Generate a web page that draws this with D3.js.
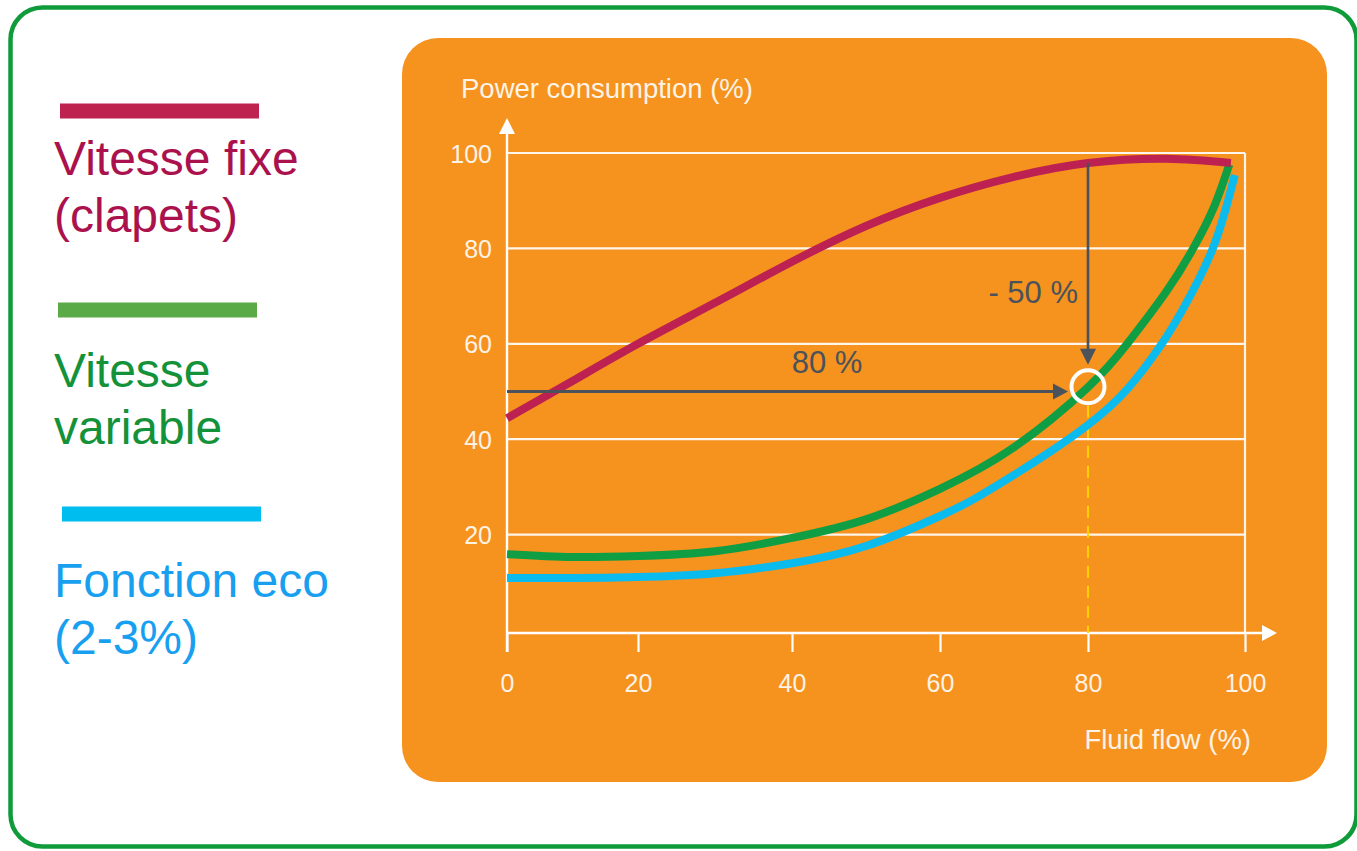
<!DOCTYPE html>
<html>
<head>
<meta charset="utf-8">
<script src="https://cdn.jsdelivr.net/npm/d3@7"></script>
<style>
	body { margin: 0; background: #fff; }
	svg { display: block; }
	text { font-family: "Liberation Sans", Arial, Helvetica, sans-serif; }
</style>
</head>
<body>
<svg id="chart" width="1357" height="851"></svg>
<script>
// data: [fluid flow %, power consumption %]
var xTicks = [0, 20, 40, 60, 80, 100];
var yTicks = [20, 40, 60, 80, 100];

var fixedSpeed = [[0, 44.4], [10, 52.2], [20, 60], [30, 68.6], [40, 77.2], [50, 84.7],
	[60, 90.6], [70, 95], [80, 97.9], [90, 98.8], [98.2, 97.9]];
var variableSpeed = [[0, 15.9], [10, 15.3], [20, 15.5], [30, 16.5], [40, 19.3], [50, 23.2],
	[60, 29.6], [70, 38.3], [80, 50.9], [85, 60], [90, 71], [93.4, 80], [96, 88.5], [98, 97.6]];
var ecoMode = [[0, 10.9], [10, 10.9], [20, 11.1], [30, 11.9], [40, 14], [50, 17.6],
	[60, 23.9], [65, 27.8], [70, 32.5], [75, 37.5], [80, 43], [85, 50.5], [89.4, 60],
	[92, 67], [95.9, 80], [98.7, 95.4]];

var seriesNames = ['fixe', 'variable', 'eco'];
var legendLabels = [['Vitesse fixe', '(clapets)'], ['Vitesse', 'variable'], ['Fonction eco', '(2-3%)']];

// operating point annotation
var opFlow = 80, opPower = 50, opCircle = 51, opFixed = 97.9;
var flowLabel = '80 %', savingLabel = '- 50 %';

var curveColors = ['#bc2152', '#109e45', '#0cbbee'];
var legendBarColors = ['#be2350', '#5aab47', '#00bdf0'];
var legendTextColors = ['#ab114c', '#14923a', '#189ff0'];
var dark = '#4a525c';

var svg = d3.select('#chart');

// outer green frame
svg.append('rect')
	.attr('x', 10.5).attr('y', 7.5)
	.attr('width', 1346).attr('height', 839)
	.attr('rx', 32)
	.attr('fill', 'none')
	.attr('stroke', '#109b3a')
	.attr('stroke-width', 4.5);

// orange panel
svg.append('rect')
	.attr('x', 402).attr('y', 38)
	.attr('width', 925).attr('height', 744)
	.attr('rx', 36)
	.attr('fill', '#f6921e');

// scales: tick labels in the picture are not evenly spaced, follow them
var x = d3.scaleLinear().domain(xTicks).range([507, 638, 792, 940, 1088, 1245]);
var y = d3.scaleLinear().domain([0, 100]).range([630, 153]);

var axisY = 633;
var white = '#fff';
var g = svg.append('g');

// gridlines
g.selectAll('.grid').data(yTicks).enter().append('line')
	.attr('x1', x(0)).attr('x2', x(100))
	.attr('y1', function(d) { return y(d); })
	.attr('y2', function(d) { return y(d); })
	.attr('stroke', white).attr('stroke-width', 2.2).attr('opacity', 0.92);

// right border of the grid
g.append('line')
	.attr('x1', x(100)).attr('x2', x(100))
	.attr('y1', y(100)).attr('y2', axisY)
	.attr('stroke', white).attr('stroke-width', 2.2).attr('opacity', 0.92);

// x axis
var xAxis = d3.axisBottom(x).tickValues(xTicks).tickSize(19).tickSizeOuter(0).tickPadding(22);
var gx = g.append('g').attr('transform', 'translate(0,' + axisY + ')').call(xAxis);
gx.select('.domain').remove();
gx.selectAll('line').attr('stroke', white).attr('stroke-width', 2.2);
gx.selectAll('text').attr('fill', '#fdf3e6').attr('font-size', 25);

g.append('line')
	.attr('x1', x(0) - 1).attr('x2', 1264)
	.attr('y1', axisY).attr('y2', axisY)
	.attr('stroke', white).attr('stroke-width', 2.4);
g.append('path')
	.attr('d', 'M1262,' + (axisY - 8) + 'L1277,' + axisY + 'L1262,' + (axisY + 8) + 'Z')
	.attr('fill', white);

// y axis
var yAxis = d3.axisLeft(y).tickValues(yTicks).tickSize(0).tickPadding(15);
var gy = g.append('g').attr('transform', 'translate(' + x(0) + ',0)').call(yAxis);
gy.select('.domain').remove();
gy.selectAll('text').attr('fill', '#fdf3e6').attr('font-size', 25).attr('dy', '0.36em');

g.append('line')
	.attr('x1', x(0)).attr('x2', x(0))
	.attr('y1', axisY + 19).attr('y2', 124)
	.attr('stroke', white).attr('stroke-width', 2.4);
g.append('path')
	.attr('d', 'M' + (x(0) - 8) + ',134L' + x(0) + ',118L' + (x(0) + 8) + ',134Z')
	.attr('fill', white);

// axis titles
g.append('text').attr('x', 461).attr('y', 98)
	.attr('fill', '#fdf3e6').attr('font-size', 27.5)
	.text('Power consumption (%)');
g.append('text').attr('x', 1251).attr('y', 749)
	.attr('text-anchor', 'end')
	.attr('fill', '#fdf3e6').attr('font-size', 27.5)
	.text('Fluid flow (%)');

// dashed line under the operating point
g.append('line')
	.attr('x1', x(opFlow)).attr('x2', x(opFlow))
	.attr('y1', y(opCircle) + 19).attr('y2', axisY)
	.attr('stroke', '#ffd200').attr('stroke-width', 2)
	.attr('stroke-dasharray', '12,8');

// curves
var line = d3.line()
	.x(function(d) { return x(d[0]); })
	.y(function(d) { return y(d[1]); })
	.curve(d3.curveNatural);

var allSeries = [fixedSpeed, variableSpeed, ecoMode];
// eco first so green sits above it, red on top
[2, 1, 0].forEach(function(i) {
	g.append('path')
		.datum(allSeries[i])
		.attr('class', 'curve-' + seriesNames[i])
		.attr('d', line)
		.attr('fill', 'none')
		.attr('stroke', curveColors[i])
		.attr('stroke-width', 8)
		.attr('stroke-linecap', 'butt');
});

// horizontal arrow (80 % flow)
var hy = y(opPower);
var hTip = x(opFlow) - 20;
g.append('line')
	.attr('x1', x(0)).attr('x2', hTip - 12)
	.attr('y1', hy).attr('y2', hy)
	.attr('stroke', dark).attr('stroke-width', 3);
g.append('path')
	.attr('d', 'M' + (hTip - 15) + ',' + (hy - 8) + 'L' + hTip + ',' + hy + 'L' + (hTip - 15) + ',' + (hy + 8) + 'Z')
	.attr('fill', dark);
g.append('text').attr('x', 827).attr('y', 373)
	.attr('text-anchor', 'middle')
	.attr('fill', dark).attr('font-size', 31)
	.text(flowLabel);

// vertical arrow (-50 % power)
var vx = x(opFlow);
var vTip = y(opCircle) - 22;
g.append('line')
	.attr('x1', vx).attr('x2', vx)
	.attr('y1', y(opFixed)).attr('y2', vTip - 12)
	.attr('stroke', dark).attr('stroke-width', 2.6);
g.append('path')
	.attr('d', 'M' + (vx - 8) + ',' + (vTip - 16) + 'L' + vx + ',' + vTip + 'L' + (vx + 8) + ',' + (vTip - 16) + 'Z')
	.attr('fill', dark);
g.append('text').attr('x', 1078).attr('y', 303)
	.attr('text-anchor', 'end')
	.attr('fill', dark).attr('font-size', 31)
	.text(savingLabel);

// operating point circle
g.append('circle')
	.attr('cx', x(opFlow)).attr('cy', y(opCircle))
	.attr('r', 16.5)
	.attr('fill', 'none')
	.attr('stroke', white).attr('stroke-width', 4);

// legend
var legendBarY = [111, 310, 514];
var legendBarX = [60, 58, 62];
var legendTextY = [175, 387, 597];
var legend = svg.append('g');
seriesNames.forEach(function(name, i) {
	legend.append('rect')
		.attr('x', legendBarX[i]).attr('y', legendBarY[i] - 7.5)
		.attr('width', 199).attr('height', 15)
		.attr('fill', legendBarColors[i]);
	legendLabels[i].forEach(function(txt, j) {
		legend.append('text')
			.attr('x', 54).attr('y', legendTextY[i] + j * 57)
			.attr('fill', legendTextColors[i])
			.attr('font-size', 48)
			.text(txt);
	});
});
</script>
</body>
</html>
